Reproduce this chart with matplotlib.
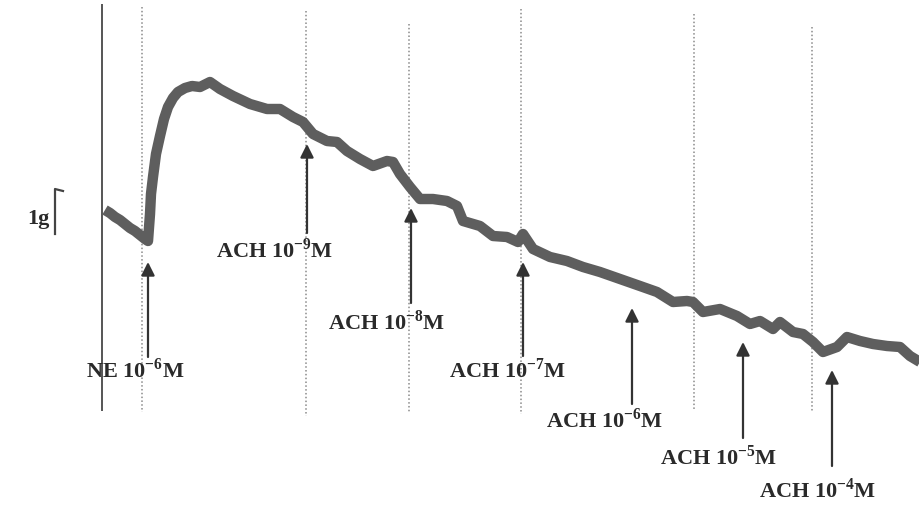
import matplotlib
matplotlib.use("Agg")
import matplotlib.pyplot as plt
import numpy as np

# tension trace (x = recording time, y = pen position)
trace_t = [105, 110, 115, 120, 125, 130, 135, 140, 145, 148,
           150, 151, 153, 156, 160, 164, 168, 173, 178, 185, 192, 200, 210, 220,
           233, 250, 267, 280, 293, 303, 313, 327, 337, 347, 360, 373, 387, 393,
           400, 410, 420, 433, 447, 457, 463, 480, 493, 507, 518, 523, 533, 550,
           567, 583, 600, 620, 640, 657, 673, 687, 693, 703, 720, 737, 750, 760,
           773, 780, 793, 803, 813, 823, 837, 847, 860, 873, 887, 900, 910, 920]
trace_y = [211, 214, 218, 221, 225, 229, 232, 236, 240, 242,
           215, 195, 178, 155, 137, 120, 108, 99, 93, 89, 87, 88, 83, 90,
           97, 105, 110, 110, 118, 123, 135, 142, 143, 152, 160, 167, 162, 163,
           175, 188, 200, 200, 202, 207, 222, 227, 237, 238, 243, 235, 250, 258,
           262, 268, 273, 280, 287, 293, 303, 302, 303, 313, 310, 317, 325, 322,
           330, 323, 333, 335, 343, 353, 348, 338, 342, 345, 347, 348, 357, 363]

# drug additions
labels = ["NE 10$^{\\mathbf{-6}}$M", "ACH 10$^{\\mathbf{-9}}$M", "ACH 10$^{\\mathbf{-8}}$M",
          "ACH 10$^{\\mathbf{-7}}$M", "ACH 10$^{\\mathbf{-6}}$M", "ACH 10$^{\\mathbf{-5}}$M",
          "ACH 10$^{\\mathbf{-4}}$M"]
drug_t = [148, 307, 411, 523, 632, 743, 832]
arrow_tip = [263, 145, 209, 263, 309, 343, 371]
arrow_tail = [358, 234, 304, 357, 405, 439, 467]
label_x = [135, 275, 387, 508, 605, 719, 818]
label_y = [378, 258, 330, 378, 428, 465, 498]

# chart-speed marks (dotted) and start line
mark_t = [142, 306, 409, 521, 694, 812]
mark_top = [8, 12, 25, 10, 15, 28]
mark_bot = [413, 417, 413, 415, 412, 413]

plt.rcParams['mathtext.fontset'] = 'custom'
plt.rcParams['mathtext.rm'] = 'Liberation Serif:bold'
plt.rcParams['mathtext.bf'] = 'Liberation Serif:bold'

fig = plt.figure(figsize=(9.2, 5.06), dpi=100)
ax = fig.add_axes([0, 0, 1, 1])
ax.set_xlim(0, 920)
ax.set_ylim(506, 0)
ax.axis('off')

ax.vlines(102, 5, 412, color='#555555', lw=1.4)
ax.vlines(mark_t, mark_top, mark_bot, color='#8a8a8a', lw=1.1, linestyles=(0, (1, 1.5)))

ax.plot(trace_t, trace_y, color='#5e5e5e', lw=7.5, solid_joinstyle='round',
        solid_capstyle='butt')

for t, tip, tail, lab, lx, ly in zip(drug_t, arrow_tip, arrow_tail, labels, label_x, label_y):
    ax.annotate("", xy=(t, tip), xytext=(t, tail),
                arrowprops=dict(arrowstyle='-|>', color='#333333', lw=1.6,
                                mutation_scale=20, shrinkA=0, shrinkB=0))
    ax.text(lx, ly, lab, ha='center', va='baseline', fontsize=16,
            family='Liberation Serif', fontweight='bold', color='#2a2a2a')

# 1 g scale bar
ax.text(38, 224, "1g", ha='center', va='baseline', fontsize=16,
        family='Liberation Serif', fontweight='bold', color='#2a2a2a')
ax.plot([55, 55, 63], [235, 190, 192], color='#444444', lw=1.6)

plt.savefig("out.png", dpi=100)
